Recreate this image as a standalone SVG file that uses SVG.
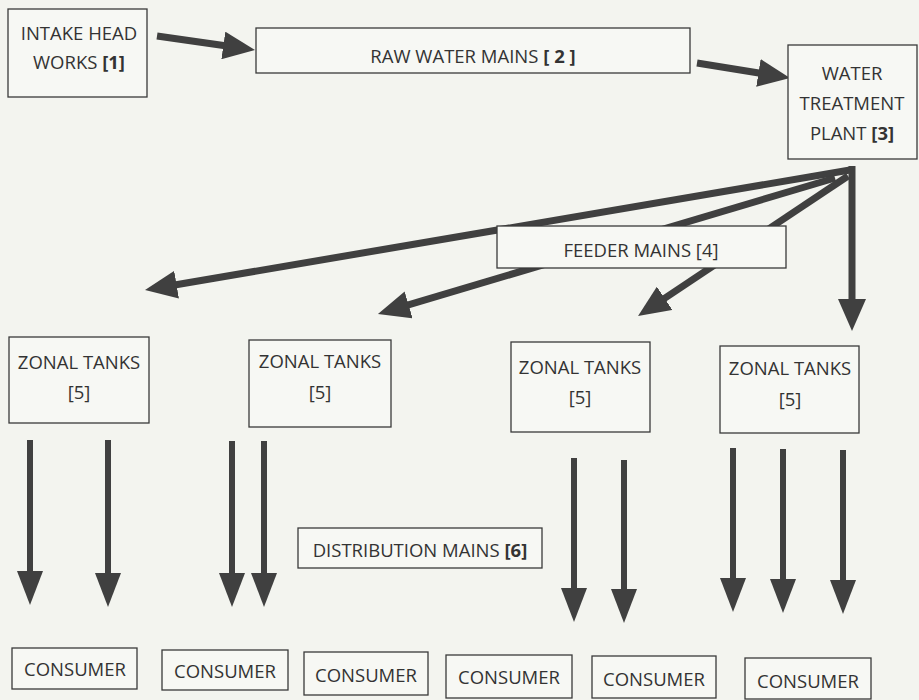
<svg xmlns="http://www.w3.org/2000/svg" width="919" height="700" viewBox="0 0 919 700">
<style>
.bg{fill:#f3f4ef}
.box{fill:#f7f8f4;stroke:#3a3a3a;stroke-width:1.3}
.t{font-family:"Open Sans","Noto Sans","Liberation Sans",sans-serif;font-size:18.5px;fill:#333;text-anchor:middle}
.b{font-weight:bold}
.arr{stroke:#404040;stroke-width:7;fill:none;marker-end:url(#ah)}
.vd{stroke:#404040;stroke-width:6;fill:none;marker-end:url(#ahv)}
</style>
<defs>
<marker id="ah" markerUnits="userSpaceOnUse" markerWidth="34" markerHeight="28" refX="2" refY="14" orient="auto">
<path d="M0,0 L32,14 L0,28 z" fill="#404040"/>
</marker>
<marker id="ahv" markerUnits="userSpaceOnUse" markerWidth="36" markerHeight="26" refX="2" refY="13" orient="auto">
<path d="M0,0 L34,13 L0,26 z" fill="#404040"/>
</marker>
</defs>
<rect class="bg" x="0" y="0" width="919" height="700"/>
<g id="connectors">
<line class="arr" x1="157" y1="36" x2="225.3" y2="45.8"/>
<line class="arr" x1="697" y1="63" x2="760.4" y2="73.2"/>
<line class="arr" x1="850" y1="170" x2="174.6" y2="285"/>
<line class="arr" x1="835" y1="178" x2="406.7" y2="305.4"/>
<line class="arr" x1="848" y1="176" x2="663" y2="299.4"/>
<line class="arr" x1="852" y1="166" x2="852" y2="301"/>
<line class="vd" x1="30" y1="440" x2="30" y2="573"/>
<line class="vd" x1="108" y1="440" x2="108" y2="575"/>
<line class="vd" x1="232" y1="441" x2="232" y2="575"/>
<line class="vd" x1="264" y1="441" x2="264" y2="575"/>
<line class="vd" x1="574" y1="458" x2="574" y2="590"/>
<line class="vd" x1="624" y1="460" x2="624" y2="591"/>
<line class="vd" x1="733" y1="448" x2="733" y2="580"/>
<line class="vd" x1="783" y1="449" x2="783" y2="581"/>
<line class="vd" x1="843" y1="450" x2="843" y2="582"/>
</g>
<g id="intake">
<rect class="box" x="8" y="9" width="139" height="88"/>
<text class="t" x="79" y="40">INTAKE HEAD</text>
<text class="t" x="79" y="69">WORKS <tspan class="b">[1]</tspan></text>
</g>
<g id="raw-water-mains">
<rect class="box" x="256" y="28" width="434" height="45"/>
<text class="t" x="473" y="63">RAW WATER MAINS <tspan class="b">[ 2 ]</tspan></text>
</g>
<g id="treatment-plant">
<rect class="box" x="788" y="45" width="129" height="114"/>
<text class="t" x="852" y="80">WATER</text>
<text class="t" x="852" y="110">TREATMENT</text>
<text class="t" x="852" y="140">PLANT <tspan class="b">[3]</tspan></text>
</g>
<g id="feeder-mains">
<rect class="box" x="497" y="226" width="289" height="42"/>
<text class="t" x="641" y="257">FEEDER MAINS [4]</text>
</g>
<g id="zonal-1">
<rect class="box" x="9" y="337" width="140" height="86"/>
<text class="t" x="79" y="369">ZONAL TANKS</text>
<text class="t" x="79" y="399">[5]</text>
</g>
<g id="zonal-2">
<rect class="box" x="249" y="340" width="142" height="87"/>
<text class="t" x="320" y="368">ZONAL TANKS</text>
<text class="t" x="320" y="399">[5]</text>
</g>
<g id="zonal-3">
<rect class="box" x="511" y="342" width="139" height="90"/>
<text class="t" x="580" y="374">ZONAL TANKS</text>
<text class="t" x="580" y="404">[5]</text>
</g>
<g id="zonal-4">
<rect class="box" x="720" y="346" width="139" height="87"/>
<text class="t" x="790" y="375">ZONAL TANKS</text>
<text class="t" x="790" y="406">[5]</text>
</g>
<g id="distribution-mains">
<rect class="box" x="298" y="528" width="244" height="40"/>
<text class="t" x="420" y="557">DISTRIBUTION MAINS <tspan class="b">[6]</tspan></text>
</g>
<g id="consumer-1">
<rect class="box" x="12" y="648" width="125" height="41"/>
<text class="t" x="75" y="676">CONSUMER</text>
</g>
<g id="consumer-2">
<rect class="box" x="162" y="650" width="126" height="40"/>
<text class="t" x="225" y="678">CONSUMER</text>
</g>
<g id="consumer-3">
<rect class="box" x="304" y="652" width="124" height="43"/>
<text class="t" x="366" y="682">CONSUMER</text>
</g>
<g id="consumer-4">
<rect class="box" x="446" y="655" width="126" height="43"/>
<text class="t" x="509" y="684">CONSUMER</text>
</g>
<g id="consumer-5">
<rect class="box" x="592" y="656" width="124" height="42"/>
<text class="t" x="654" y="686">CONSUMER</text>
</g>
<g id="consumer-6">
<rect class="box" x="745" y="658" width="126" height="41"/>
<text class="t" x="808" y="688">CONSUMER</text>
</g>
</svg>
